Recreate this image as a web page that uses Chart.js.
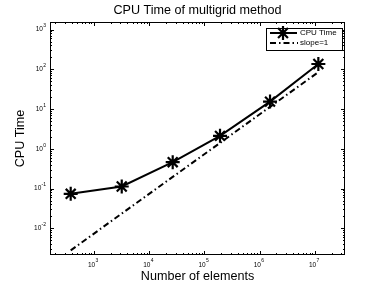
<!DOCTYPE html>
<html><head><meta charset="utf-8">
<style>html,body{margin:0;padding:0;background:#fff;overflow:hidden}canvas{display:block}</style>
<script src="https://cdn.jsdelivr.net/npm/chart.js@4.4.0/dist/chart.umd.min.js"></script>
</head><body>
<canvas id="c" width="382" height="287"></canvas>
<script>
// ---- data ----
const elements = [379, 3180, 26600, 191000, 1535000, 11500000];
const cpuTime  = [0.0738, 0.113, 0.462, 2.12, 15.4, 136];
const slopeRef = [0.0028, 0.0235, 0.197, 1.41, 11.4, 85.1];
const xMajorExp = [3, 4, 5, 6, 7];
const yMajorExp = [-2, -1, 0, 1, 2, 3];
const seriesLabels = ['CPU Time', 'slope=1'];
const titleText = 'CPU Time of multigrid method';
const xTitle = 'Number of elements';
const yTitle = 'CPU Time';

const FONT = '"Liberation Sans", Arial, Helvetica, sans-serif';

function pts(xs, ys) { return xs.map((x, i) => ({x: x, y: ys[i]})); }

function logTicks(min, max) {
  const out = [];
  const lo = Math.floor(Math.log10(min)), hi = Math.ceil(Math.log10(max));
  for (let e = lo; e <= hi; e++) {
    for (let m = 1; m <= 9; m++) {
      const v = m * Math.pow(10, e);
      if (v >= min && v <= max) out.push({v: v, major: m === 1});
    }
  }
  return out;
}

function starMarker(ctx, x, y, r) {
  ctx.beginPath();
  for (let k = 0; k < 4; k++) {
    const a = k * Math.PI / 4;
    ctx.moveTo(x - r * Math.cos(a), y - r * Math.sin(a));
    ctx.lineTo(x + r * Math.cos(a), y + r * Math.sin(a));
  }
  ctx.stroke();
}

const axesPlugin = {
  id: 'matlabAxes',
  beforeDraw(chart) {
    const ctx = chart.ctx;
    ctx.save();
    ctx.fillStyle = '#fff';
    ctx.fillRect(0, 0, chart.width, chart.height);
    ctx.restore();
  },
  afterDraw(chart) {
    const ctx = chart.ctx;
    const a = chart.chartArea;
    const xs = chart.scales.x, ys = chart.scales.y;
    ctx.save();
    ctx.strokeStyle = '#000';
    ctx.fillStyle = '#000';
    ctx.lineWidth = 1;
    // box
    ctx.strokeRect(Math.round(a.left) + 0.5, Math.round(a.top) + 0.5,
                   Math.round(a.right - a.left) - 1, Math.round(a.bottom - a.top) - 1);
    // ticks (inward, all four sides)
    ctx.beginPath();
    logTicks(xs.min, xs.max).forEach(t => {
      const px = Math.round(xs.getPixelForValue(t.v)) + 0.5;
      const len = t.major ? 4 : 2;
      ctx.moveTo(px, a.bottom); ctx.lineTo(px, a.bottom - len);
      ctx.moveTo(px, a.top); ctx.lineTo(px, a.top + len);
    });
    logTicks(ys.min, ys.max).forEach(t => {
      const py = Math.round(ys.getPixelForValue(t.v)) + 0.5;
      const len = t.major ? 4 : 2;
      ctx.moveTo(a.left, py); ctx.lineTo(a.left + len, py);
      ctx.moveTo(a.right, py); ctx.lineTo(a.right - len, py);
    });
    ctx.stroke();

    // tick labels
    const baseF = '6.5px ' + FONT, expF = '5px ' + FONT;
    ctx.textBaseline = 'middle';
    xMajorExp.forEach(e => {
      const px = xs.getPixelForValue(Math.pow(10, e));
      ctx.font = baseF; const w1 = ctx.measureText('10').width;
      ctx.font = expF; const w2 = ctx.measureText(String(e)).width;
      const start = px - 1 - (w1 + w2) / 2;
      ctx.textAlign = 'left';
      ctx.font = baseF; ctx.fillText('10', start, a.bottom + 10.5);
      ctx.font = expF; ctx.fillText(String(e), start + w1 + 0.3, a.bottom + 6);
    });
    yMajorExp.forEach(e => {
      const py = ys.getPixelForValue(Math.pow(10, e));
      const lab = e < 0 ? '-' + (-e) : String(e);
      ctx.font = expF; const w2 = ctx.measureText(lab).width;
      ctx.textAlign = 'right';
      ctx.font = expF; ctx.fillText(lab, a.left - 4, py - 3.5);
      ctx.font = baseF; ctx.fillText('10', a.left - 4 - w2 - 0.3, py);
    });

    // titles
    ctx.textAlign = 'center';
    ctx.font = '12.6px ' + FONT;
    const cx = (a.left + a.right) / 2;
    ctx.fillText(titleText, cx, 10.5);
    ctx.fillText(xTitle, cx, 276.5);
    ctx.save();
    ctx.translate(21, (a.top + a.bottom) / 2);
    ctx.rotate(-Math.PI / 2);
    ctx.fillText(yTitle, 0, 0);
    ctx.restore();

    // legend
    const lx = 266, ly = 28, lw = 76, lh = 22;
    ctx.fillStyle = '#fff';
    ctx.fillRect(lx, ly, lw, lh);
    ctx.strokeStyle = '#000';
    ctx.lineWidth = 1;
    ctx.strokeRect(lx + 0.5, ly + 0.5, lw, lh);
    ctx.fillStyle = '#000';
    const ds = chart.data.datasets;
    const r1 = 33, r2 = 43;
    ctx.lineWidth = ds[0].borderWidth;
    ctx.setLineDash([]);
    ctx.beginPath(); ctx.moveTo(270, r1); ctx.lineTo(297, r1); ctx.stroke();
    ctx.lineWidth = ds[0].pointBorderWidth;
    starMarker(ctx, 283, r1, ds[0].pointRadius);
    ctx.lineWidth = ds[1].borderWidth;
    ctx.setLineDash(ds[1].borderDash);
    ctx.beginPath(); ctx.moveTo(270, r2); ctx.lineTo(298, r2); ctx.stroke();
    ctx.setLineDash([]);
    ctx.font = '8px ' + FONT;
    ctx.textAlign = 'left';
    ctx.fillText(ds[0].label, 300, r1);
    ctx.fillText(ds[1].label, 300, r2);
    ctx.restore();
  }
};

new Chart(document.getElementById('c'), {
  type: 'scatter',
  data: {
    datasets: [
      {
        label: seriesLabels[0],
        data: pts(elements, cpuTime),
        showLine: true,
        borderColor: '#000',
        backgroundColor: '#000',
        borderWidth: 2,
        pointStyle: 'star',
        pointRadius: 7,
        pointHoverRadius: 7,
        pointBorderWidth: 2.2,
        pointBorderColor: '#000',
        tension: 0
      },
      {
        label: seriesLabels[1],
        data: pts(elements, slopeRef),
        showLine: true,
        borderColor: '#000',
        borderWidth: 2,
        borderDash: [6, 3, 1.5, 3],
        pointRadius: 0,
        pointHoverRadius: 0,
        tension: 0
      }
    ]
  },
  options: {
    responsive: false,
    devicePixelRatio: 1,
    animation: false,
    events: [],
    layout: { padding: { left: 50, right: 37, top: 22, bottom: 32 } },
    plugins: { legend: { display: false }, title: { display: false }, tooltip: { enabled: false } },
    scales: {
      x: { type: 'logarithmic', display: false, min: Math.pow(10, 2.204), max: Math.pow(10, 7.543) },
      y: { type: 'logarithmic', display: false, min: Math.pow(10, -2.67), max: Math.pow(10, 3.19) }
    }
  },
  plugins: [axesPlugin]
});
</script>
</body></html>
